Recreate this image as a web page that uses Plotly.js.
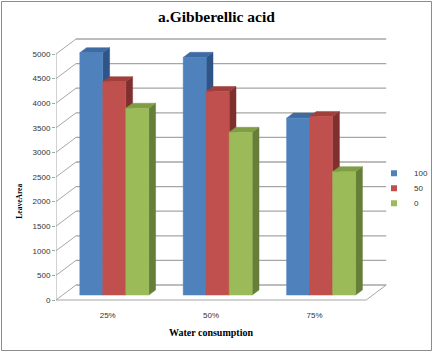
<!DOCTYPE html>
<html>
<head>
<meta charset="utf-8">
<script src="https://cdn.plot.ly/plotly-3.0.1.min.js"></script>
<style>
html,body{margin:0;padding:0;background:#fff;}
#chart{width:433px;height:352px;}
</style>
</head>
<body>
<div id="chart"></div>
<script>
// ---- data ----
const categories = ["25%", "50%", "75%"];
const seriesNames = ["100", "50", "0"];
const values100 = [4925, 4830, 3595];
const values50 = [4335, 4135, 3628];
const values0 = [3795, 3307, 2506];
const yTicks = [0, 500, 1000, 1500, 2000, 2500, 3000, 3500, 4000, 4500, 5000];

// ---- styles / geometry ----
const W = 433, H = 352;
const PLOT_L = 56, PLOT_R = 400, PLOT_T = 30, PLOT_B = 305;
const XSTEP = 103.4;            // px per category
const PXPERUNIT = 246 / 5000;   // px per value unit
const Y0PX = 300;               // pixel of value 0 at front plane
const xMin = -0.5;
const xMax = xMin + (PLOT_R - PLOT_L) / XSTEP;
const yMin = -(PLOT_B - Y0PX) / PXPERUNIT;
const yMax = (Y0PX - PLOT_T) / PXPERUNIT;
const dxU = 20 / XSTEP;          // depth offset in x units
const dyU = 15 / PXPERUNIT;      // depth offset in y units
const d1 = 0.33, d2 = 0.67;      // bar front/back depth fraction
const bw = 23 / XSTEP;           // bar width
const wallRight = 2.5;

const frontCol = ["#4F81BD", "#C0504D", "#9BBB59"];
const topCol = ["#3E6BA4", "#A13F3C", "#7E9D45"];
const sideCol = ["#2F5487", "#7F302E", "#657E38"];
const gridCol = "#A6A6A6";

const allSeries = [values100, values50, values0];
const traces = [];

// walls / gridlines
const gx = [], gy = [];
yTicks.forEach(v => {
  gx.push(xMin + dxU, wallRight + dxU, null);
  gy.push(v + dyU, v + dyU, null);
});
traces.push({x: gx, y: gy, mode: "lines", line: {color: gridCol, width: 1.3}, hoverinfo: "skip", showlegend: false});
const sx = [], sy = [];
yTicks.forEach(v => {
  sx.push(xMin, xMin + dxU, null);
  sy.push(v, v + dyU, null);
});
sx.push(xMin, wallRight, wallRight + dxU, null);
sy.push(0, 0, dyU, null);
sx.push(xMin, xMin, null);
sy.push(0, yTicks[yTicks.length - 1], null);
traces.push({x: sx, y: sy, mode: "lines", line: {color: gridCol, width: 1}, hoverinfo: "skip", showlegend: false});

// bars
const groupW = bw * allSeries.length;
const dd = d2 - d1;
allSeries.forEach((vals, s) => {
  const fx = [], fy = [], tx = [], ty = [], kx = [], ky = [];
  vals.forEach((v, i) => {
    const xl = i - groupW / 2 + s * bw + d1 * dxU;
    const xr = xl + bw;
    const base = d1 * dyU;
    const top = base + v;
    const ox = dd * dxU, oy = dd * dyU;
    kx.push(xr, xr + ox, xr + ox, xr, xr, null);
    ky.push(base, base + oy, top + oy, top, base, null);
    tx.push(xl, xr, xr + ox, xl + ox, xl, null);
    ty.push(top, top, top + oy, top + oy, top, null);
    fx.push(xl, xr, xr, xl, xl, null);
    fy.push(base, base, top, top, base, null);
  });
  const common = {mode: "lines", fill: "toself", hoverinfo: "skip", showlegend: false};
  traces.push(Object.assign({x: kx, y: ky, fillcolor: sideCol[s], line: {color: sideCol[s], width: 0.5}}, common));
  traces.push(Object.assign({x: tx, y: ty, fillcolor: topCol[s], line: {color: topCol[s], width: 0.5}}, common));
  traces.push(Object.assign({x: fx, y: fy, fillcolor: frontCol[s], line: {color: frontCol[s], width: 0.5}}, common));
});

// legend entries
const legendIds = ["legend", "legend2", "legend3"];
seriesNames.forEach((n, s) => {
  traces.push({x: [null], y: [null], mode: "markers", name: n,
    marker: {symbol: "square", size: 6, color: frontCol[s]},
    legend: legendIds[s], showlegend: true});
});

const pw = PLOT_R - PLOT_L, ph = PLOT_B - PLOT_T;
const px2x = p => (p - PLOT_L) / pw;
const px2y = p => (PLOT_B - p) / ph;

const legendFont = {family: "Liberation Sans, Arial, sans-serif", size: 8, color: "#333"};
const legendBase = {xanchor: "left", yanchor: "middle", bgcolor: "rgba(0,0,0,0)", borderwidth: 0, font: legendFont, itemclick: false, itemdoubleclick: false};
const legendY = [173.3, 188.3, 203.3];
const legendX = 374;

const layout = {
  width: W, height: H,
  margin: {l: PLOT_L, r: W - PLOT_R, t: PLOT_T, b: H - PLOT_B, pad: 0, autoexpand: false},
  paper_bgcolor: "#fff", plot_bgcolor: "rgba(0,0,0,0)",
  title: {text: "a.Gibberellic acid", font: {family: "Liberation Serif, Times New Roman, serif", size: 15.5, color: "#000", weight: "bold"},
          x: 0.5, xref: "container", xanchor: "center", y: 1 - 16.7 / H, yref: "container", yanchor: "middle", automargin: false},
  xaxis: {range: [xMin, xMax], tickvals: [0, 1, 2], ticktext: categories, ticks: "", showgrid: false, zeroline: false, showline: false, automargin: false,
          tickfont: {family: "Liberation Sans, Arial, sans-serif", size: 8, color: "#333"}, ticklabelstandoff: 4, fixedrange: true},
  yaxis: {range: [yMin, yMax], tickvals: yTicks, ticks: "outside", ticklen: 3, tickcolor: gridCol, showgrid: false, zeroline: false, showline: false, automargin: false,
          tickfont: {family: "Liberation Sans, Arial, sans-serif", size: 8, color: "#333"}, fixedrange: true},
  showlegend: true,
  legend: Object.assign({x: px2x(legendX), y: px2y(legendY[0])}, legendBase),
  legend2: Object.assign({x: px2x(legendX), y: px2y(legendY[1])}, legendBase),
  legend3: Object.assign({x: px2x(legendX), y: px2y(legendY[2])}, legendBase),
  annotations: [
    {text: "Water consumption", xref: "paper", yref: "paper", x: px2x(211.3), y: px2y(332.7), xanchor: "center", yanchor: "middle", showarrow: false,
     font: {family: "Liberation Serif, Times New Roman, serif", size: 10, color: "#000", weight: "bold"}},
    {text: "LeaveArea", xref: "paper", yref: "paper", x: px2x(20), y: px2y(201.7), xanchor: "center", yanchor: "middle", showarrow: false, textangle: -90,
     font: {family: "Liberation Serif, Times New Roman, serif", size: 7.5, color: "#000", weight: "bold"}}
  ],
  shapes: [
    {type: "rect", xref: "paper", yref: "paper", x0: px2x(1.5), x1: px2x(431.5), y0: px2y(350.5), y1: px2y(1.5), line: {color: "#8C8C8C", width: 1}, fillcolor: "rgba(0,0,0,0)"}
  ]
};

Plotly.newPlot("chart", traces, layout, {staticPlot: true, displayModeBar: false});
</script>
</body>
</html>
